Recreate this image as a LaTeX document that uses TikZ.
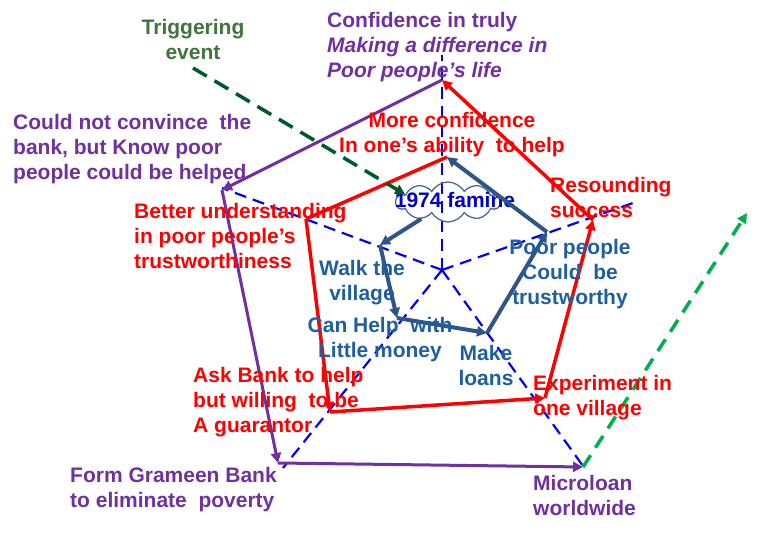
\documentclass[tikz,border=0pt]{standalone}
\usepackage{fontspec}
\setmainfont{Liberation Sans}
\usepackage{xcolor}
\usepackage{tikz}
\usetikzlibrary{shapes.symbols, arrows.meta, positioning}
\definecolor{yunuspurple}{RGB}{112, 48, 160}
\definecolor{yunusred}{RGB}{255, 0, 0}
\definecolor{axisblue}{RGB}{0, 0, 255}
\definecolor{walkblue}{RGB}{47, 85, 135}
\definecolor{walktext}{RGB}{31, 95, 160}
\definecolor{triggertext}{RGB}{62, 118, 62}
\definecolor{triggerline}{RGB}{0, 90, 40}
\definecolor{futuregreen}{RGB}{0, 176, 80}
\definecolor{famineblue}{RGB}{0, 0, 205}
\definecolor{cloudline}{RGB}{75, 105, 145}

\begin{document}
\begin{tikzpicture}[x=1pt, y=-1pt,
    lbl/.style={font=\bfseries\fontsize{21}{25}\selectfont, inner sep=0pt},
    axis/.style={axisblue, line width=2.2pt, dash pattern=on 12pt off 7pt},
    tip/.style={-{Triangle[length=10pt, width=10pt]}}]
    \useasboundingbox (0,0) rectangle (761,556);

    \coordinate (ctr) at (442,270);
    \coordinate (axT) at (442,55);
    \coordinate (axUL) at (222,188);
    \coordinate (axUR) at (633,203);
    \coordinate (axLL) at (283,468);
    \coordinate (axLR) at (583,466);
    \foreach \ax in {axT, axUL, axUR, axLL, axLR}
        \draw[axis] (ctr) -- (\ax);

    \coordinate (pT) at (442,80);
    \coordinate (pUL) at (222,190);
    \coordinate (pLL) at (278,463);
    \coordinate (pLR) at (583,467);
    \coordinate (future) at (747,213);
    \coordinate (rT) at (447,157);
    \coordinate (rUL) at (306,219);
    \coordinate (rLL) at (330,412);
    \coordinate (rLR) at (545,398);
    \coordinate (rR) at (593,220);
    \coordinate (bUL) at (380,245);
    \coordinate (bLL) at (397,318);
    \coordinate (bLR) at (487,333);
    \coordinate (bR) at (547,232);

    \node[cloud, draw=cloudline, line width=1.3pt, cloud puffs=10, cloud puff arc=120, cloud ignores aspect, minimum width=104pt, minimum height=40pt, inner sep=0pt, lbl, text=famineblue] (famine) at (448,202) {\makebox[0pt]{\hspace{14pt}1974 famine}\rule[-8pt]{0pt}{28pt}};

    \draw[tip, yunuspurple, line width=3pt] (pT) -- (pUL);
    \draw[tip, yunuspurple, line width=3pt] (pUL) -- (pLL);
    \draw[tip, yunuspurple, line width=3pt] (pLL) -- (pLR);
    \draw[tip, futuregreen, line width=3.5pt, dash pattern=on 14pt off 9pt] (pLR) -- (future);

    \draw[yunusred, line width=3.5pt] (rT) -- (rUL);
    \draw[tip, yunusred, line width=3.5pt] (rUL) -- (rLL);
    \draw[tip, yunusred, line width=3.5pt] (rLL) -- (rLR);
    \draw[tip, yunusred, line width=3.5pt] (rLR) -- (rR);
    \draw[tip, yunusred, line width=3.5pt] (rR) -- (pT);

    \draw[tip, walkblue, line width=4pt] (famine) -- (bUL);
    \draw[tip, walkblue, line width=4pt] (bUL) -- (bLL);
    \draw[tip, walkblue, line width=4pt] (bLL) -- (bLR);
    \draw[tip, walkblue, line width=4pt] (bLR) -- (bR);
    \draw[tip, walkblue, line width=4pt] (bR) -- (rT);

    \node[lbl, text=triggertext, align=center, anchor=base] (trigger) at (193,60) {Triggering\\event};
    \coordinate (trigstart) at (193,68);
    \draw[tip, triggerline, line width=3.5pt, dash pattern=on 16pt off 9pt] (trigstart) -- (famine.170);

    \node[lbl, text=yunuspurple, align=left, anchor=base west] (confidence) at (327,78) {Confidence in truly\\\textit{Making a difference in}\\\textit{Poor people’s life}};
    \node[lbl, text=yunuspurple, align=left, anchor=base west] (convince) at (13,180) {Could not convince~ the\\bank, but Know poor\\people could be helped};
    \node[lbl, text=yunuspurple, align=left, anchor=base west] (grameen) at (70,507) {Form Grameen Bank\\to eliminate~ poverty};
    \node[lbl, text=yunuspurple, align=left, anchor=base west] (microloan) at (533,515) {Microloan\\worldwide};

    \node[lbl, text=yunusred, align=center, anchor=base] (moreconf) at (452,153) {More confidence\\In one’s ability~ to help};
    \node[lbl, text=yunusred, align=left, anchor=base west] (better) at (134,269) {Better understanding\\in poor people’s\\trustworthiness};
    \node[lbl, text=yunusred, align=left, anchor=base west] (resound) at (550,218) {Resounding\\success};
    \node[lbl, text=yunusred, align=left, anchor=base west] (askbank) at (193,432) {Ask Bank to help\\but willing~ to be\\A guarantor};
    \node[lbl, text=yunusred, align=left, anchor=base west] (experiment) at (533,415) {Experiment in\\one village};

    \node[lbl, text=walktext, align=center, anchor=base] (walk) at (362,301) {Walk the\\village};
    \node[lbl, text=walktext, align=center, anchor=base] (canhelp) at (380,357) {Can Help~ with\\Little money};
    \node[lbl, text=walktext, align=center, anchor=base] (makeloans) at (486,385) {Make\\loans};
    \node[lbl, text=walktext, align=center, anchor=base] (poorpeople) at (570,305) {Poor people\\Could~ be\\trustworthy};
\end{tikzpicture}
\end{document}
